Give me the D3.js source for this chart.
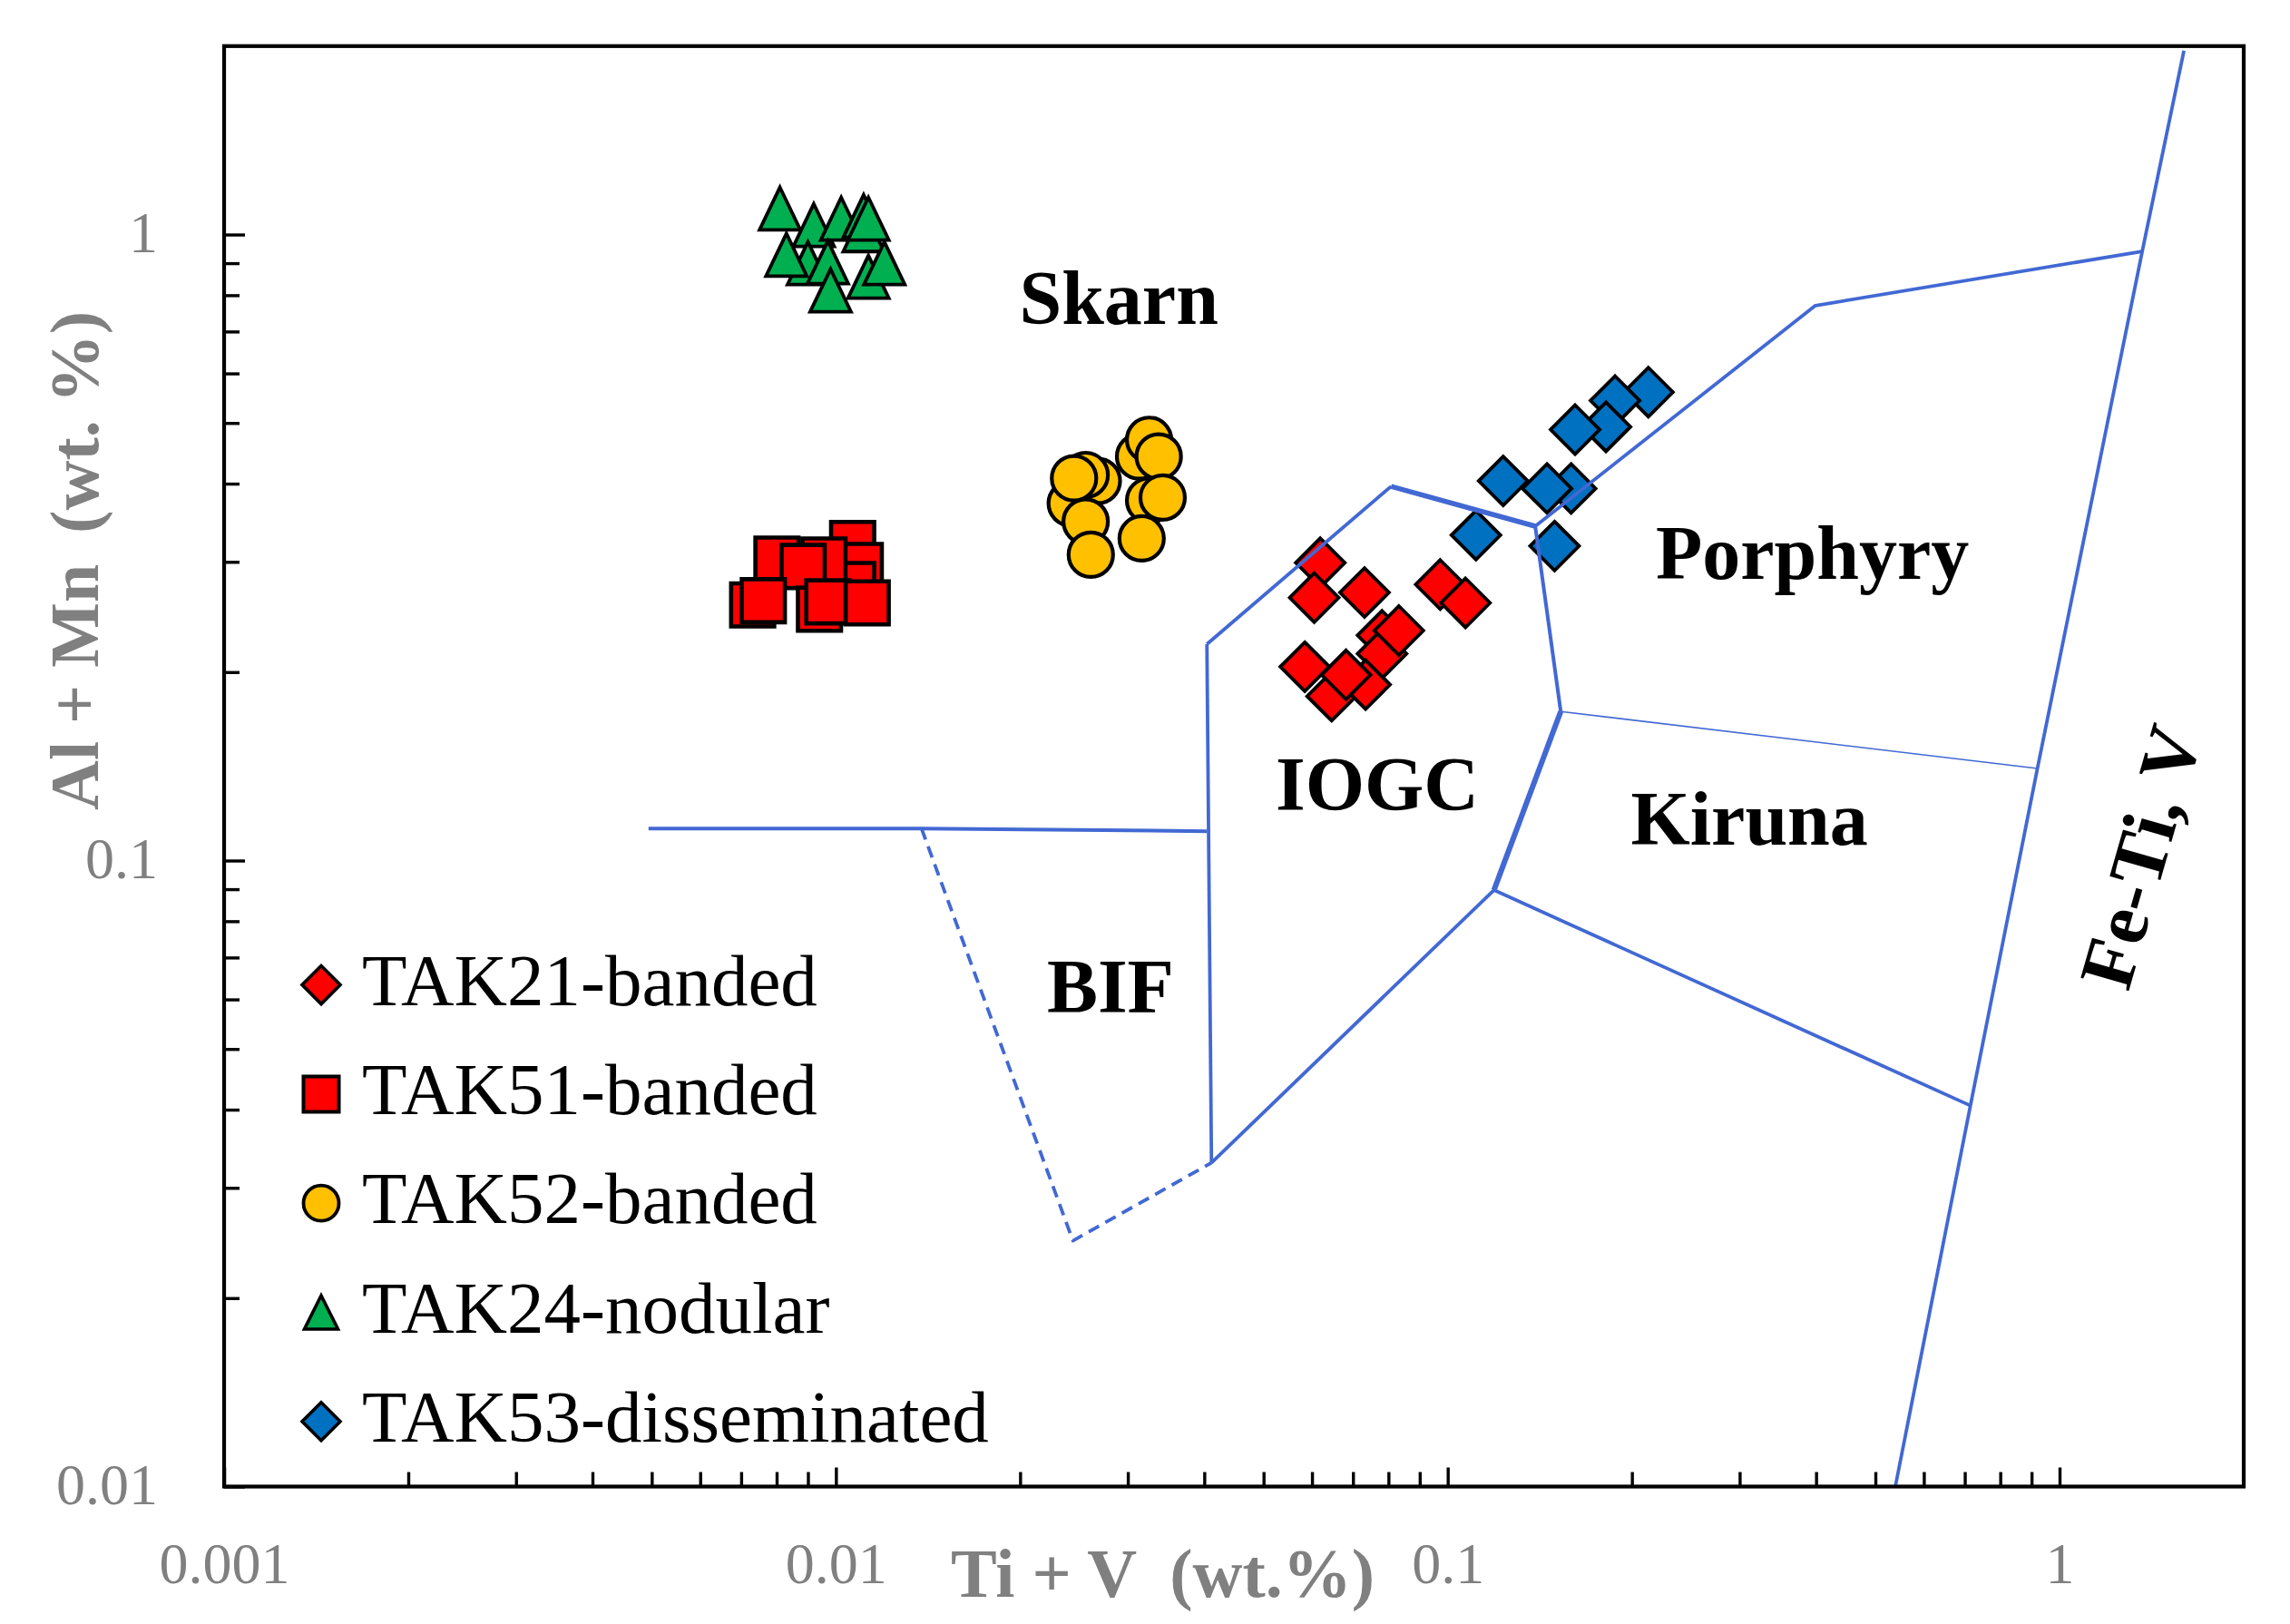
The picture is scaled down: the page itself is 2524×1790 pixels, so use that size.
<!DOCTYPE html>
<html>
<head>
<meta charset="utf-8">
<script src="https://cdn.jsdelivr.net/npm/d3@7"></script>
<style>
  html, body { margin: 0; padding: 0; background: #ffffff; }
  svg { display: block; }
</style>
</head>
<body>
<svg id="chart" width="2524" height="1790"></svg>
<script>
// ---------------- DATA ----------------
const xDomain = [0.001, 2];
const yDomain = [0.01, 2];

const xTickValues = [0.001, 0.01, 0.1, 1];
const xTickLabels = ["0.001", "0.01", "0.1", "1"];
const yTickValues = [0.01, 0.1, 1];
const yTickLabels = ["0.01", "0.1", "1"];

const seriesNames = ["TAK21-banded", "TAK51-banded", "TAK52-banded", "TAK24-nodular", "TAK53-disseminated"];

// Ti+V , Al+Mn (wt.%)
const tak21 = [
  [0.0619, 0.299], [0.0605, 0.263], [0.0731, 0.268], [0.0972, 0.276], [0.1069, 0.258],
  [0.0781, 0.229], [0.0781, 0.214], [0.0832, 0.233], [0.0646, 0.183], [0.0734, 0.191],
  [0.0584, 0.204], [0.0682, 0.198]
];
const tak51 = [
  [0.01065, 0.321], [0.01096, 0.296], [0.01065, 0.276], [0.00801, 0.303], [0.00956, 0.302],
  [0.00884, 0.295], [0.00731, 0.256], [0.00761, 0.260], [0.00940, 0.252], [0.00970, 0.259],
  [0.01125, 0.258]
];
const tak52 = [
  [0.0242, 0.372], [0.0268, 0.404], [0.0256, 0.413], [0.0245, 0.408], [0.0256, 0.348],
  [0.0261, 0.308], [0.0313, 0.442], [0.0325, 0.470], [0.0337, 0.442], [0.0325, 0.376],
  [0.0342, 0.380], [0.0316, 0.327]
];
const tak24 = [
  [0.0081, 1.100], [0.0092, 1.035], [0.0102, 1.060], [0.0111, 1.070], [0.0111, 1.016],
  [0.0113, 1.060], [0.0090, 0.900], [0.0083, 0.928], [0.0097, 0.903], [0.0113, 0.856],
  [0.0120, 0.900], [0.0098, 0.814]
];
const tak53 = [
  [0.2128, 0.560], [0.1877, 0.543], [0.1814, 0.493], [0.1615, 0.488], [0.1232, 0.404],
  [0.1591, 0.393], [0.1453, 0.393], [0.1112, 0.331], [0.1495, 0.318]
];

// discrimination-diagram boundaries (Ti+V, Al+Mn)
const skarnBifLine   = [[0.00494, 0.1125], [0.0138, 0.1125], [0.0404, 0.1114]];
const bifDashed      = [[0.0138, 0.1125], [0.0244, 0.0247], [0.0411, 0.0329]];
const iogcLeft       = [[0.0404, 0.2216], [0.0411, 0.0329]];
const iogcTop        = [[0.0404, 0.2216], [0.0808, 0.396]];
const iogcTopThick   = [[0.0808, 0.396], [0.139, 0.342]];
const iogcRight      = [[0.139, 0.342], [0.153, 0.173]];
const iogcKirunaLine = [[0.153, 0.173], [0.119, 0.0897]];
const iogcBottom     = [[0.0411, 0.0329], [0.119, 0.0897]];
const kirunaBottom   = [[0.119, 0.0897], [0.715, 0.0406]];
const kirunaTop      = [[0.153, 0.173], [0.92, 0.1403]];
const porphyryTop    = [[0.139, 0.342], [0.399, 0.770], [1.365, 0.940]];
const feTiLine       = [[1.597, 1.966], [1.365, 0.940], [0.92, 0.1403], [0.715, 0.0406], [0.539, 0.01]];

const fieldNames = ["Skarn", "Porphyry", "IOGC", "Kiruna", "BIF", "Fe-Ti, V"];
const fieldAnchors = [[0.0290, 0.720], [0.3945, 0.2818], [0.0767, 0.1203], [0.3112, 0.106], [0.0281, 0.0572], [1.351, 0.1015]];

// ---------------- DRAW ----------------
const W = 2524, H = 1790;
const L = 247, R = 2473, T = 50.8, B = 1638.5;
const svg = d3.select("#chart");
svg.append("rect").attr("width", W).attr("height", H).attr("fill", "#ffffff");

const x = d3.scaleLog().domain(xDomain).range([L, R]);
const y = d3.scaleLog().domain(yDomain).range([B, T]);

const serif = "'Liberation Serif', 'Times New Roman', serif";
const lineColor = "#4268d3";
const grey = "#808080";

// marker shapes
const shapes = {
  diamond: r => `M0,${-r}L${r},0L0,${r}L${-r},0Z`,
  square: s => `M${-s/2},${-s/2}h${s}v${s}h${-s}Z`,
  triangle: (w, h) => `M0,${-h/2}L${w/2},${h/2}L${-w/2},${h/2}Z`
};

const seriesTable = [
  { name: seriesNames[0], data: tak21, shape: "diamond", fill: "#ff0000" },
  { name: seriesNames[1], data: tak51, shape: "square", fill: "#ff0000" },
  { name: seriesNames[2], data: tak52, shape: "circle", fill: "#ffc000" },
  { name: seriesNames[3], data: tak24, shape: "triangle", fill: "#00b050" },
  { name: seriesNames[4], data: tak53, shape: "diamond", fill: "#0070c0" }
];

function drawMarker(g, shape, fill, big) {
  const sw = big ? 3.8 : 3.6;
  if (shape === "circle") {
    g.append("circle").attr("r", big ? 24.5 : 19.5)
      .attr("fill", fill).attr("stroke", "#000").attr("stroke-width", big ? 4.2 : 3.8);
  } else {
    let d;
    if (shape === "diamond") d = shapes.diamond(big ? 27 : 21);
    else if (shape === "square") d = shapes.square(big ? 47.5 : 39);
    else d = shapes.triangle(big ? 45 : 37, big ? 47 : 37);
    g.append("path").attr("d", d).attr("fill", fill)
      .attr("stroke", "#000").attr("stroke-width", shape === "square" ? (big ? 4.6 : 4) : sw)
      .attr("stroke-linejoin", "miter");
  }
}

// data markers
const markersG = svg.append("g");
seriesTable.forEach(s => {
  s.data.forEach(p => {
    const g = markersG.append("g").attr("transform", `translate(${x(p[0])},${y(p[1])})`);
    drawMarker(g, s.shape, s.fill, true);
  });
});

// boundary lines
const line = d3.line().x(d => x(d[0])).y(d => y(d[1]));
const linesG = svg.append("g").attr("fill", "none").attr("stroke", lineColor)
  .attr("stroke-linejoin", "round");
function drawLine(pts, w, dash) {
  const p = linesG.append("path").attr("d", line(pts)).attr("stroke-width", w);
  if (dash) p.attr("stroke-dasharray", dash);
}
drawLine(skarnBifLine, 4);
drawLine(bifDashed, 3.8, "13,8");
drawLine(iogcLeft, 3.8);
drawLine(iogcTop, 3.8);
drawLine(iogcTopThick, 5.6);
drawLine(iogcRight, 4);
drawLine(iogcKirunaLine, 6);
drawLine(iogcBottom, 3.8);
drawLine(kirunaBottom, 3.8);
drawLine(kirunaTop, 1.6);
drawLine(porphyryTop, 3.8);
drawLine(feTiLine, 3.8);

// field labels
const labG = svg.append("g").attr("font-family", serif).attr("font-weight", "bold")
  .attr("font-size", 84).attr("fill", "#000").attr("text-anchor", "middle");
fieldNames.forEach((n, i) => {
  const a = fieldAnchors[i];
  if (n === "Fe-Ti, V") {
    labG.append("text")
      .attr("transform", `translate(${x(a[0])},${y(a[1])}) rotate(-74)`)
      .attr("dy", "0.35em").text(n);
  } else {
    labG.append("text").attr("x", x(a[0])).attr("y", y(a[1])).text(n);
  }
});

// legend
const legX = 354, legY0 = 1085.6, legDy = 120.3;
const legG = svg.append("g");
seriesTable.forEach((s, i) => {
  const g = legG.append("g").attr("transform", `translate(${legX},${legY0 + i * legDy})`);
  drawMarker(g, s.shape, s.fill, false);
  legG.append("text").attr("x", legX + 45).attr("y", legY0 + i * legDy + 22)
    .attr("font-family", serif).attr("font-size", 81).attr("fill", "#000").text(s.name);
});

// axes: minor ticks
function minorTicks(domain) {
  const out = [];
  for (let e = Math.floor(Math.log10(domain[0])); e <= Math.ceil(Math.log10(domain[1])); e++) {
    for (let m = 2; m <= 9; m++) {
      const v = m * Math.pow(10, e);
      if (v > domain[0] && v < domain[1]) out.push(v);
    }
  }
  return out;
}

const axG = svg.append("g");
const xMinor = axG.append("g").attr("transform", `translate(0,${B})`)
  .call(d3.axisBottom(x).tickValues(minorTicks(xDomain)).tickSizeInner(-16).tickSizeOuter(0).tickFormat(""));
const xMajor = axG.append("g").attr("transform", `translate(0,${B})`)
  .call(d3.axisBottom(x).tickValues(xTickValues).tickSizeInner(-21).tickSizeOuter(0)
    .tickPadding(61).tickFormat((d, i) => xTickLabels[i]));
const yMinor = axG.append("g").attr("transform", `translate(${L},0)`)
  .call(d3.axisLeft(y).tickValues(minorTicks(yDomain)).tickSizeInner(-17).tickSizeOuter(0).tickFormat(""));
const yMajor = axG.append("g").attr("transform", `translate(${L},0)`)
  .call(d3.axisLeft(y).tickValues(yTickValues).tickSizeInner(-23).tickSizeOuter(0)
    .tickPadding(73).tickFormat((d, i) => yTickLabels[i]));

[xMinor, xMajor, yMinor, yMajor].forEach(g => {
  g.select(".domain").remove();
  g.selectAll(".tick line").attr("stroke", "#000").attr("stroke-width", 3.4);
  g.selectAll(".tick text").attr("font-family", serif).attr("font-size", 64).attr("fill", grey);
});
yMajor.selectAll(".tick text").attr("dy", "0.3em");

// frame
svg.append("rect").attr("x", L).attr("y", T).attr("width", R - L).attr("height", B - T)
  .attr("fill", "none").attr("stroke", "#000").attr("stroke-width", 4.2);

// axis titles
const xt = svg.append("text").attr("x", 1048).attr("y", 1760)
  .attr("font-family", serif).attr("font-size", 76).attr("font-weight", "bold").attr("fill", grey);
xt.append("tspan").text("Ti + V");
xt.append("tspan").attr("dx", 36).text("(wt.%)");

const yt = svg.append("text").attr("transform", "translate(108,893) rotate(-90)")
  .attr("font-family", serif).attr("font-size", 76).attr("font-weight", "bold").attr("fill", grey);
yt.append("tspan").text("Al + Mn");
yt.append("tspan").attr("dx", 34).text("(wt. %)");
</script>
</body>
</html>
